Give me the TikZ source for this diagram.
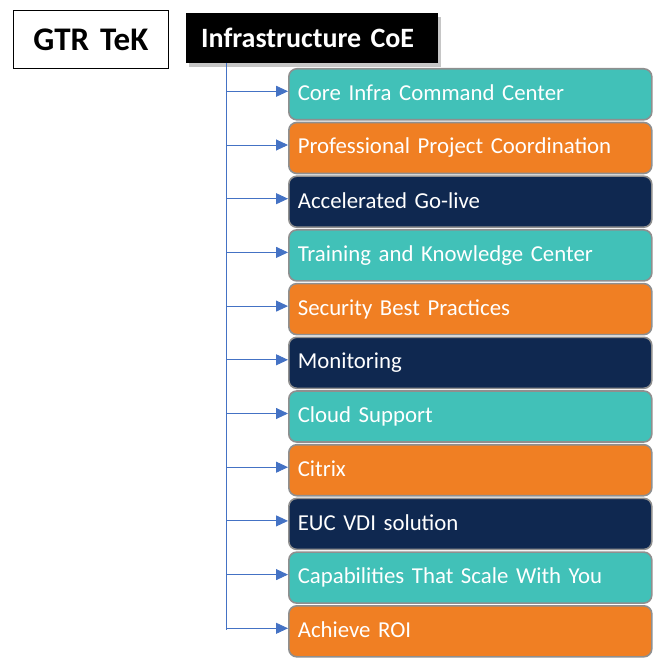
\documentclass[tikz,border=0pt]{standalone}
\usepackage{fontspec}
\setmainfont{Carlito}
\usetikzlibrary{positioning,arrows.meta,shadows}

\definecolor{teal}{HTML}{41C1B8}
\definecolor{orange}{HTML}{F07F23}
\definecolor{navy}{HTML}{0F2850}
\definecolor{edgegray}{HTML}{8F8F8F}
\definecolor{linkblue}{HTML}{4472C4}

\begin{document}
\begin{tikzpicture}[x=1pt, y=-1pt,
  title/.style = {draw, line width=0.8pt, minimum width=155pt, minimum height=58pt,
                  text width=141pt, inner xsep=7pt, align=center,
                  font=\fontsize{33}{38}\selectfont\bfseries},
  head/.style = {fill=black, text=white, minimum width=252pt, minimum height=50pt,
                 text width=222pt, inner xsep=15pt, align=left,
                 font=\fontsize{28}{32}\selectfont\bfseries,
                 drop shadow={shadow xshift=3pt, shadow yshift=-4pt, opacity=0.45}},
  item/.style = {draw=edgegray, line width=1.6pt, rounded corners=8pt, fill=#1,
                 text=white, minimum width=363pt, minimum height=51pt,
                 text width=345pt, inner xsep=9pt, align=left,
                 font=\fontsize{22.8}{26}\selectfont},
  link/.style = {draw=linkblue, line width=0.9pt},
  arrow/.style = {link, -{Triangle[length=12pt, width=11pt]}},
  ]
  \useasboundingbox (0,0) rectangle (667,668);

  \node[title, anchor=north west] (gtr) at (13,10) {GTR TeK\hspace*{8pt}};
  \node[head, anchor=north west] (coe) at (186,13) {Infrastructure CoE};

  % branches
  \foreach \n/\c/\t in {1/teal/Core Infra Command Center,
                        2/orange/Professional Project Coordination,
                        3/navy/Accelerated Go-live,
                        4/teal/Training and Knowledge Center,
                        5/orange/Security Best Practices,
                        6/navy/Monitoring,
                        7/teal/Cloud Support,
                        8/orange/Citrix,
                        9/navy/EUC VDI solution,
                        10/teal/Capabilities That Scale With You,
                        11/orange/Achieve ROI}
  {
    \node[item=\c, anchor=north west] (i\n) at (288, {68 + 53.7*(\n-1)}) {\raisebox{3pt}{\t}};
  }

  \coordinate (trunk) at (226,63);
  \coordinate (trunkend) at (226,630);
  \draw[link] (trunk) -- (trunkend);
  \foreach \n in {1,...,11}
    \draw[arrow] ([yshift=3pt]i\n.west -| trunk) -- ([yshift=3pt]i\n.west);
\end{tikzpicture}
\end{document}
